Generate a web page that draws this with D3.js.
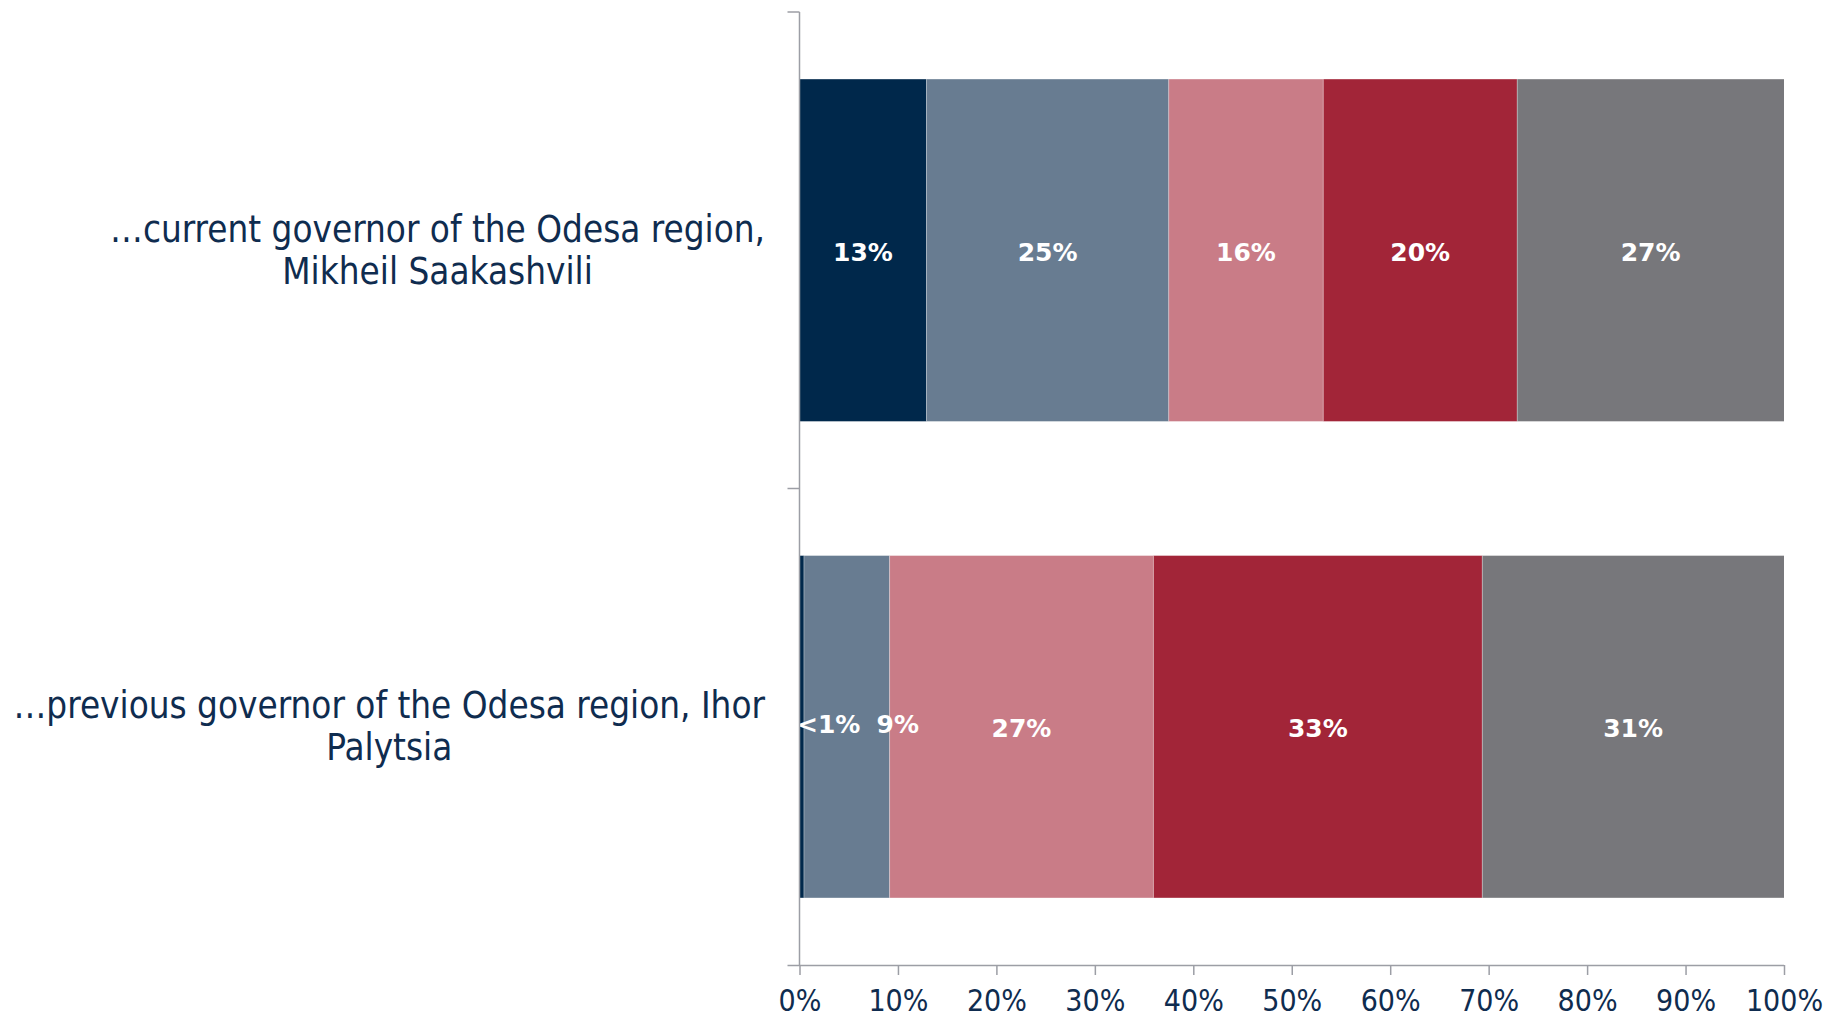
<!DOCTYPE html>
<html>
<head>
<meta charset="utf-8">
<script src="https://cdn.jsdelivr.net/npm/d3@7"></script>
<style>
  html, body { margin: 0; padding: 0; background: #fff; }
  svg { display: block; }
  .cat { font-family: "DejaVu Sans Condensed", "DejaVu Sans", sans-serif; fill: #0f2c4f; }
  .tick text { font-family: "DejaVu Sans Condensed", "DejaVu Sans", sans-serif; fill: #0f2c4f; }
  .val { font-family: "DejaVu Sans", sans-serif; font-weight: bold; fill: #fff; }
</style>
</head>
<body>
<svg id="chart" width="1823" height="1020"></svg>
<script>
// Survey rows (statement about each governor)
const categories = [
  "…current governor of the Odesa region, Mikheil Saakashvili",
  "…previous governor of the Odesa region, Ihor Palytsia"
];
// Answer segments, left to right
const segments = ["s1", "s2", "s3", "s4", "s5"];
const segmentColors = ["#00284b", "#687c91", "#c97c87", "#a22538", "#77777b"];
// Shares (%) per row
const currentGovernor  = [12.9, 24.6, 15.7, 19.7, 27.1];
const previousGovernor = [0.45, 8.7, 26.8, 33.4, 30.65];
// Printed labels
const currentLabels  = ["13%", "25%", "16%", "20%", "27%"];
const previousLabels = ["<1%", "9%", "27%", "33%", "31%"];
const xTicks = [0, 10, 20, 30, 40, 50, 60, 70, 80, 90, 100];

const rows = [
  { name: categories[0], values: currentGovernor, labels: currentLabels },
  { name: categories[1], values: previousGovernor, labels: previousLabels }
];

const svg = d3.select("#chart");
const plotLeft = 799.5, plotRight = 1784, plotTop = 12, plotBottom = 965;

const x = d3.scaleLinear().domain([0, 100]).range([plotLeft, plotRight]);
const y = d3.scaleBand().domain(categories).range([plotTop, plotBottom])
  .paddingInner(0.282).paddingOuter(0.141);
const color = d3.scaleOrdinal().domain(segments).range(segmentColors);

// stacked segments
const stacked = rows.map(r => {
  let acc = 0;
  return r.values.map((v, i) => {
    const s = { row: r.name, key: segments[i], x0: acc, x1: acc + v, label: r.labels[i], idx: i };
    acc += v;
    return s;
  });
});

const bars = svg.append("g");
stacked.forEach(segs => {
  bars.selectAll(null).data(segs).enter().append("rect")
    .attr("x", d => x(d.x0))
    .attr("y", d => y(d.row))
    .attr("width", d => x(d.x1) - x(d.x0))
    .attr("height", y.bandwidth())
    .attr("fill", d => color(d.key));
});

// thin segment dividers
stacked.forEach(segs => {
  bars.selectAll(null).data(segs.slice(1)).enter().append("line")
    .attr("x1", d => x(d.x0)).attr("x2", d => x(d.x0))
    .attr("y1", d => y(d.row)).attr("y2", d => y(d.row) + y.bandwidth())
    .attr("stroke", "#ffffff").attr("stroke-opacity", 0.35).attr("stroke-width", 1);
});

// value labels; the two tiny segments of the second row are pushed right so they stay readable
const labelNudge = { "1-0": [27, -4], "1-1": [51, -4] };
stacked.forEach((segs, r) => {
  svg.append("g").selectAll("text").data(segs).enter().append("text")
    .attr("class", "val")
    .attr("x", d => (x(d.x0) + x(d.x1)) / 2 + ((labelNudge[r + "-" + d.idx] || [0, 0])[0]))
    .attr("y", d => y(d.row) + y.bandwidth() / 2 + 2 + ((labelNudge[r + "-" + d.idx] || [0, 0])[1]))
    .attr("text-anchor", "middle")
    .attr("dominant-baseline", "central")
    .attr("font-size", 25)
    .text(d => d.label);
});

// x axis
const xAxis = svg.append("g")
  .attr("transform", `translate(0,${plotBottom})`)
  .call(d3.axisBottom(x).tickValues(xTicks).tickFormat(d => d + "%").tickSize(10).tickPadding(15).tickSizeOuter(0));
xAxis.select(".domain").attr("stroke", "#9c9ea5").attr("stroke-width", 1.5)
  .attr("d", `M${plotLeft - 12},0.5H${plotRight}`);
xAxis.selectAll(".tick line").attr("stroke", "#9c9ea5").attr("stroke-width", 1.5);
xAxis.selectAll(".tick text").attr("font-size", 30);

// y axis line with ticks at band boundaries
const yAxisG = svg.append("g");
yAxisG.append("line")
  .attr("x1", plotLeft).attr("x2", plotLeft).attr("y1", plotTop).attr("y2", plotBottom)
  .attr("stroke", "#9c9ea5").attr("stroke-width", 1.5);
const boundaries = [plotTop, (y(categories[0]) + y.bandwidth() + y(categories[1])) / 2];
yAxisG.selectAll(null).data(boundaries).enter().append("line")
  .attr("x1", plotLeft - 12).attr("x2", plotLeft)
  .attr("y1", d => d).attr("y2", d => d)
  .attr("stroke", "#9c9ea5").attr("stroke-width", 1.5);

// category labels: wrapped, each block centered, right edge near the axis
const labelRight = 765, wrapWidth = 765, catSize = 36.5, lineGap = 42;
rows.forEach(r => {
  const g = svg.append("g");
  const words = r.name.split(" ");
  const lines = [];
  let cur = [];
  const probe = g.append("text").attr("class", "cat").attr("font-size", catSize);
  words.forEach(w => {
    const test = cur.concat(w).join(" ");
    probe.text(test);
    if (probe.node().getComputedTextLength() > wrapWidth && cur.length) {
      lines.push(cur.join(" "));
      cur = [w];
    } else cur.push(w);
  });
  lines.push(cur.join(" "));
  let maxW = 0;
  lines.forEach(l => { probe.text(l); maxW = Math.max(maxW, probe.node().getComputedTextLength()); });
  probe.remove();
  const cx = labelRight - maxW / 2;
  const cy = y(r.name) + y.bandwidth() / 2;
  const y0 = cy - (lines.length - 1) * lineGap / 2;
  lines.forEach((l, i) => {
    g.append("text").attr("class", "cat").attr("font-size", catSize)
      .attr("x", cx).attr("y", y0 + i * lineGap)
      .attr("text-anchor", "middle").attr("dominant-baseline", "central")
      .text(l);
  });
});
</script>
</body>
</html>
